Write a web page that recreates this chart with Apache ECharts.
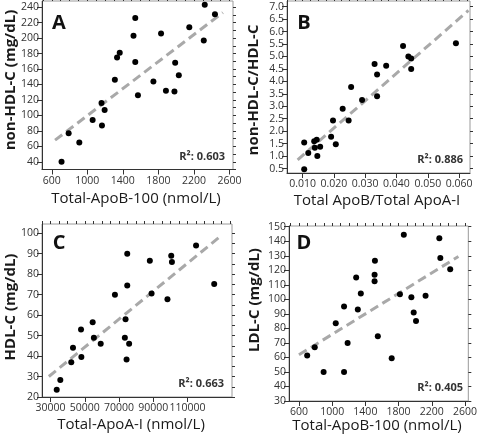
<!DOCTYPE html>
<html><head><meta charset="utf-8">
<script src="https://cdn.jsdelivr.net/npm/echarts@6/dist/echarts.min.js"></script>
<style>html,body{margin:0;padding:0;background:#fff}#c{width:480px;height:435px}</style>
</head><body><div id="c"></div>
<script>
// ---------- Panel A: Total-ApoB-100 vs non-HDL-C ----------
const aX = [710, 790, 910, 1060, 1160, 1165, 1195, 1310, 1335, 1365, 1520, 1540, 1540, 1570, 1744, 1830, 1885, 1981, 1989, 2030, 2148, 2311, 2322, 2437];
const aY = [40, 77, 65, 94, 116, 87, 107, 146, 175, 181, 203, 226, 169, 126, 144, 206, 132, 131, 168, 152, 214, 197, 243, 231];
const aFitX = [637, 2526];
const aFitY = [68, 233];
const aXTicks = [600, 1000, 1400, 1800, 2200, 2600];
const aYTicks = [40, 60, 80, 100, 120, 140, 160, 180, 200, 220, 240];

// ---------- Panel B: ApoB/ApoA-I ratio vs non-HDL-C/HDL-C ----------
const bX = [0.0105, 0.0105, 0.0118, 0.0137, 0.0139, 0.0145, 0.0147, 0.0156, 0.0191, 0.0197, 0.0206, 0.0228, 0.0247, 0.0255, 0.0290, 0.0330, 0.0338, 0.0338, 0.0367, 0.0421, 0.0438, 0.0447, 0.0447, 0.0590];
const bY = [0.47, 1.55, 1.12, 1.6, 1.33, 1.66, 1.0, 1.37, 1.78, 2.43, 1.47, 2.9, 2.43, 3.77, 3.25, 4.7, 4.28, 3.4, 4.63, 5.42, 5.0, 4.92, 4.5, 5.53];
const bFitX = [0.0084, 0.0630];
const bFitY = [0.85, 6.85];
const bXTicks = [0.010, 0.020, 0.030, 0.040, 0.050, 0.060];
const bYTicks = [0.5, 1.0, 1.5, 2.0, 2.5, 3.0, 3.5, 4.0, 4.5, 5.0, 5.5, 6.0, 6.5, 7.0];

// ---------- Panel C: Total-ApoA-I vs HDL-C ----------
const cX = [33600, 35700, 42100, 43100, 47800, 48000, 54600, 55300, 59300, 67600, 73400, 73800, 74400, 74800, 74800, 75900, 88000, 89000, 98300, 100500, 100900, 115000, 125600];
const cY = [23.5, 28.3, 37, 44, 53, 39.5, 56.5, 49, 46, 70, 49, 58, 38.3, 90, 74.5, 46, 86.5, 70.5, 67.8, 89, 86, 94, 75.2];
const cFitX = [29000, 130000];
const cFitY = [30, 99];
const cXTicks = [30000, 50000, 70000, 90000, 110000];
const cYTicks = [20, 30, 40, 50, 60, 70, 80, 90, 100];

// ---------- Panel D: Total-ApoB-100 vs LDL-C ----------
const dX = [699, 790, 897, 1043, 1143, 1143, 1186, 1289, 1309, 1345, 1511, 1515, 1511, 1550, 1717, 1816, 1863, 1954, 1982, 2010, 2125, 2291, 2303, 2422];
const dY = [61.3, 67, 50, 83.6, 95, 50, 70, 115, 93, 104, 117, 126.5, 112.5, 74.5, 59.5, 103.5, 144.5, 101.5, 91, 85, 102.5, 142, 128.5, 120.8];
const dFitX = [600, 2521];
const dFitY = [61.8, 129.5];
const dXTicks = [600, 1000, 1400, 1800, 2200, 2600];
const dYTicks = [30, 40, 50, 60, 70, 80, 90, 100, 110, 120, 130, 140, 150];

function range(a, b, s) { const r = []; const n = Math.round((b - a) / s); for (let i = 0; i <= n; i++) r.push(+(a + i * s).toFixed(6)); return r; }

const FONT = 'Open Sans';
const panels = [
  { grid: {left: 42, top: 1, width: 191, height: 168.5}, xMin: 490, xMax: 2640, yMin: 30, yMax: 248,
    xs: aX, ys: aY, fx: aFitX, fy: aFitY, xT: aXTicks, yT: aYTicks,
    xMinor: range(500, 2600, 100), yMinor: range(30, 240, 10), xFmt: v => String(v), yFmt: v => String(v) },
  { grid: {left: 287, top: 1, width: 183, height: 172}, xMin: 0.005, xMax: 0.0635, yMin: 0.32, yMax: 7.23,
    xs: bX, ys: bY, fx: bFitX, fy: bFitY, xT: bXTicks, yT: bYTicks,
    xMinor: range(0.005, 0.0625, 0.0025), yMinor: bYTicks, xFmt: v => v.toFixed(3), yFmt: v => v.toFixed(1) },
  { grid: {left: 42, top: 224, width: 190, height: 173}, xMin: 25000, xMax: 136000, yMin: 20, yMax: 104.5,
    xs: cX, ys: cY, fx: cFitX, fy: cFitY, xT: cXTicks, yT: cYTicks,
    xMinor: range(25000, 135000, 5000), yMinor: range(20, 100, 5), xFmt: v => String(v), yFmt: v => String(v) },
  { grid: {left: 289, top: 226, width: 180, height: 175}, xMin: 480, xMax: 2640, yMin: 30, yMax: 150.5,
    xs: dX, ys: dY, fx: dFitX, fy: dFitY, xT: dXTicks, yT: dYTicks,
    xMinor: range(500, 2600, 100), yMinor: dYTicks, xFmt: v => String(v), yFmt: v => String(v) }
];

const grid = [], xAxis = [], yAxis = [], series = [];
panels.forEach((p, i) => {
  grid.push(Object.assign({show: true, borderColor: '#9a9a9a', borderWidth: 1, backgroundColor: 'transparent'}, p.grid));
  const lbl = {color: '#333', fontFamily: FONT, fontSize: 10.5};
  xAxis.push({type: 'value', gridIndex: i, min: p.xMin, max: p.xMax,
    axisLine: {show: true, onZero: false, lineStyle: {color: '#333', width: 1}},
    axisTick: {show: true, length: 5, customValues: p.xT, lineStyle: {color: '#333'}},
    axisLabel: Object.assign({customValues: p.xT, margin: 6, formatter: p.xFmt, showMinLabel: true, showMaxLabel: true, hideOverlap: false}, lbl),
    splitLine: {show: false}});
  xAxis.push({type: 'value', gridIndex: i, min: p.xMin, max: p.xMax,
    axisLine: {show: false}, axisLabel: {show: false}, splitLine: {show: false},
    axisTick: {show: true, length: 3, customValues: p.xMinor, lineStyle: {color: '#333'}}});
  yAxis.push({type: 'value', gridIndex: i, min: p.yMin, max: p.yMax,
    axisLine: {show: true, onZero: false, lineStyle: {color: '#333', width: 1}},
    axisTick: {show: true, length: 5, customValues: p.yT, lineStyle: {color: '#333'}},
    axisLabel: Object.assign({customValues: p.yT, margin: 3, formatter: p.yFmt, showMinLabel: true, showMaxLabel: true, hideOverlap: false}, lbl),
    splitLine: {show: false}});
  yAxis.push({type: 'value', gridIndex: i, min: p.yMin, max: p.yMax,
    axisLine: {show: false}, axisLabel: {show: false}, splitLine: {show: false},
    axisTick: {show: true, length: 3, customValues: p.yMinor, lineStyle: {color: '#333'}}});
  series.push({type: 'line', xAxisIndex: 2 * i, yAxisIndex: 2 * i, silent: true, symbol: 'none',
    data: p.fx.map((x, k) => [x, p.fy[k]]),
    lineStyle: {color: '#a9a9a9', width: 3, type: [9, 5]}, z: 2});
  series.push({type: 'scatter', xAxisIndex: 2 * i, yAxisIndex: 2 * i, symbolSize: 6,
    data: p.xs.map((x, k) => [x, p.ys[k]]),
    itemStyle: {color: '#000', opacity: 1}, z: 3});
});

const titleStyle = {fontFamily: FONT, fontSize: 15, fill: '#1a1a1a'};
function txt(x, y, text, extra, rot) {
  const o = {type: 'text', x: x, y: y, silent: true,
    style: Object.assign({text: text, align: 'center', verticalAlign: 'middle'}, titleStyle, extra || {})};
  if (rot) o.rotation = Math.PI / 2;
  return o;
}
const graphics = [
  txt(136, 199, 'Total-ApoB-100 (nmol/L)'),
  txt(377, 201, 'Total ApoB/Total ApoA-I'),
  txt(131, 425, 'Total-ApoA-I (nmol/L)'),
  txt(377, 426, 'Total-ApoB-100 (nmol/L)'),
  txt(11, 80, 'non-HDL-C (mg/dL)', {fontWeight: 'bold'}, true),
  txt(254, 90, 'non-HDL-C/HDL-C', {fontWeight: 'bold'}, true),
  txt(11, 307, 'HDL-C (mg/dL)', {fontWeight: 'bold'}, true),
  txt(255, 300, 'LDL-C (mg/dL)', {fontWeight: 'bold'}, true),
  txt(59, 23, 'A', {fontWeight: 'bold', fontSize: 20, fill: '#111'}),
  txt(304, 23, 'B', {fontWeight: 'bold', fontSize: 20, fill: '#111'}),
  txt(59, 243, 'C', {fontWeight: 'bold', fontSize: 20, fill: '#111'}),
  txt(304, 243, 'D', {fontWeight: 'bold', fontSize: 20, fill: '#111'}),
  txt(225, 157, 'R²: 0.603', {fontWeight: 'bold', fontSize: 11, align: 'right', fill: '#333'}),
  txt(463, 160, 'R²: 0.886', {fontWeight: 'bold', fontSize: 11, align: 'right', fill: '#333'}),
  txt(224, 384, 'R²: 0.663', {fontWeight: 'bold', fontSize: 11, align: 'right', fill: '#333'}),
  txt(463, 388, 'R²: 0.405', {fontWeight: 'bold', fontSize: 11, align: 'right', fill: '#333'})
];

const chart = echarts.init(document.getElementById('c'), null, {renderer: 'canvas'});
chart.setOption({animation: false, backgroundColor: '#fff', grid, xAxis, yAxis, series, graphic: graphics});
</script></body></html>
